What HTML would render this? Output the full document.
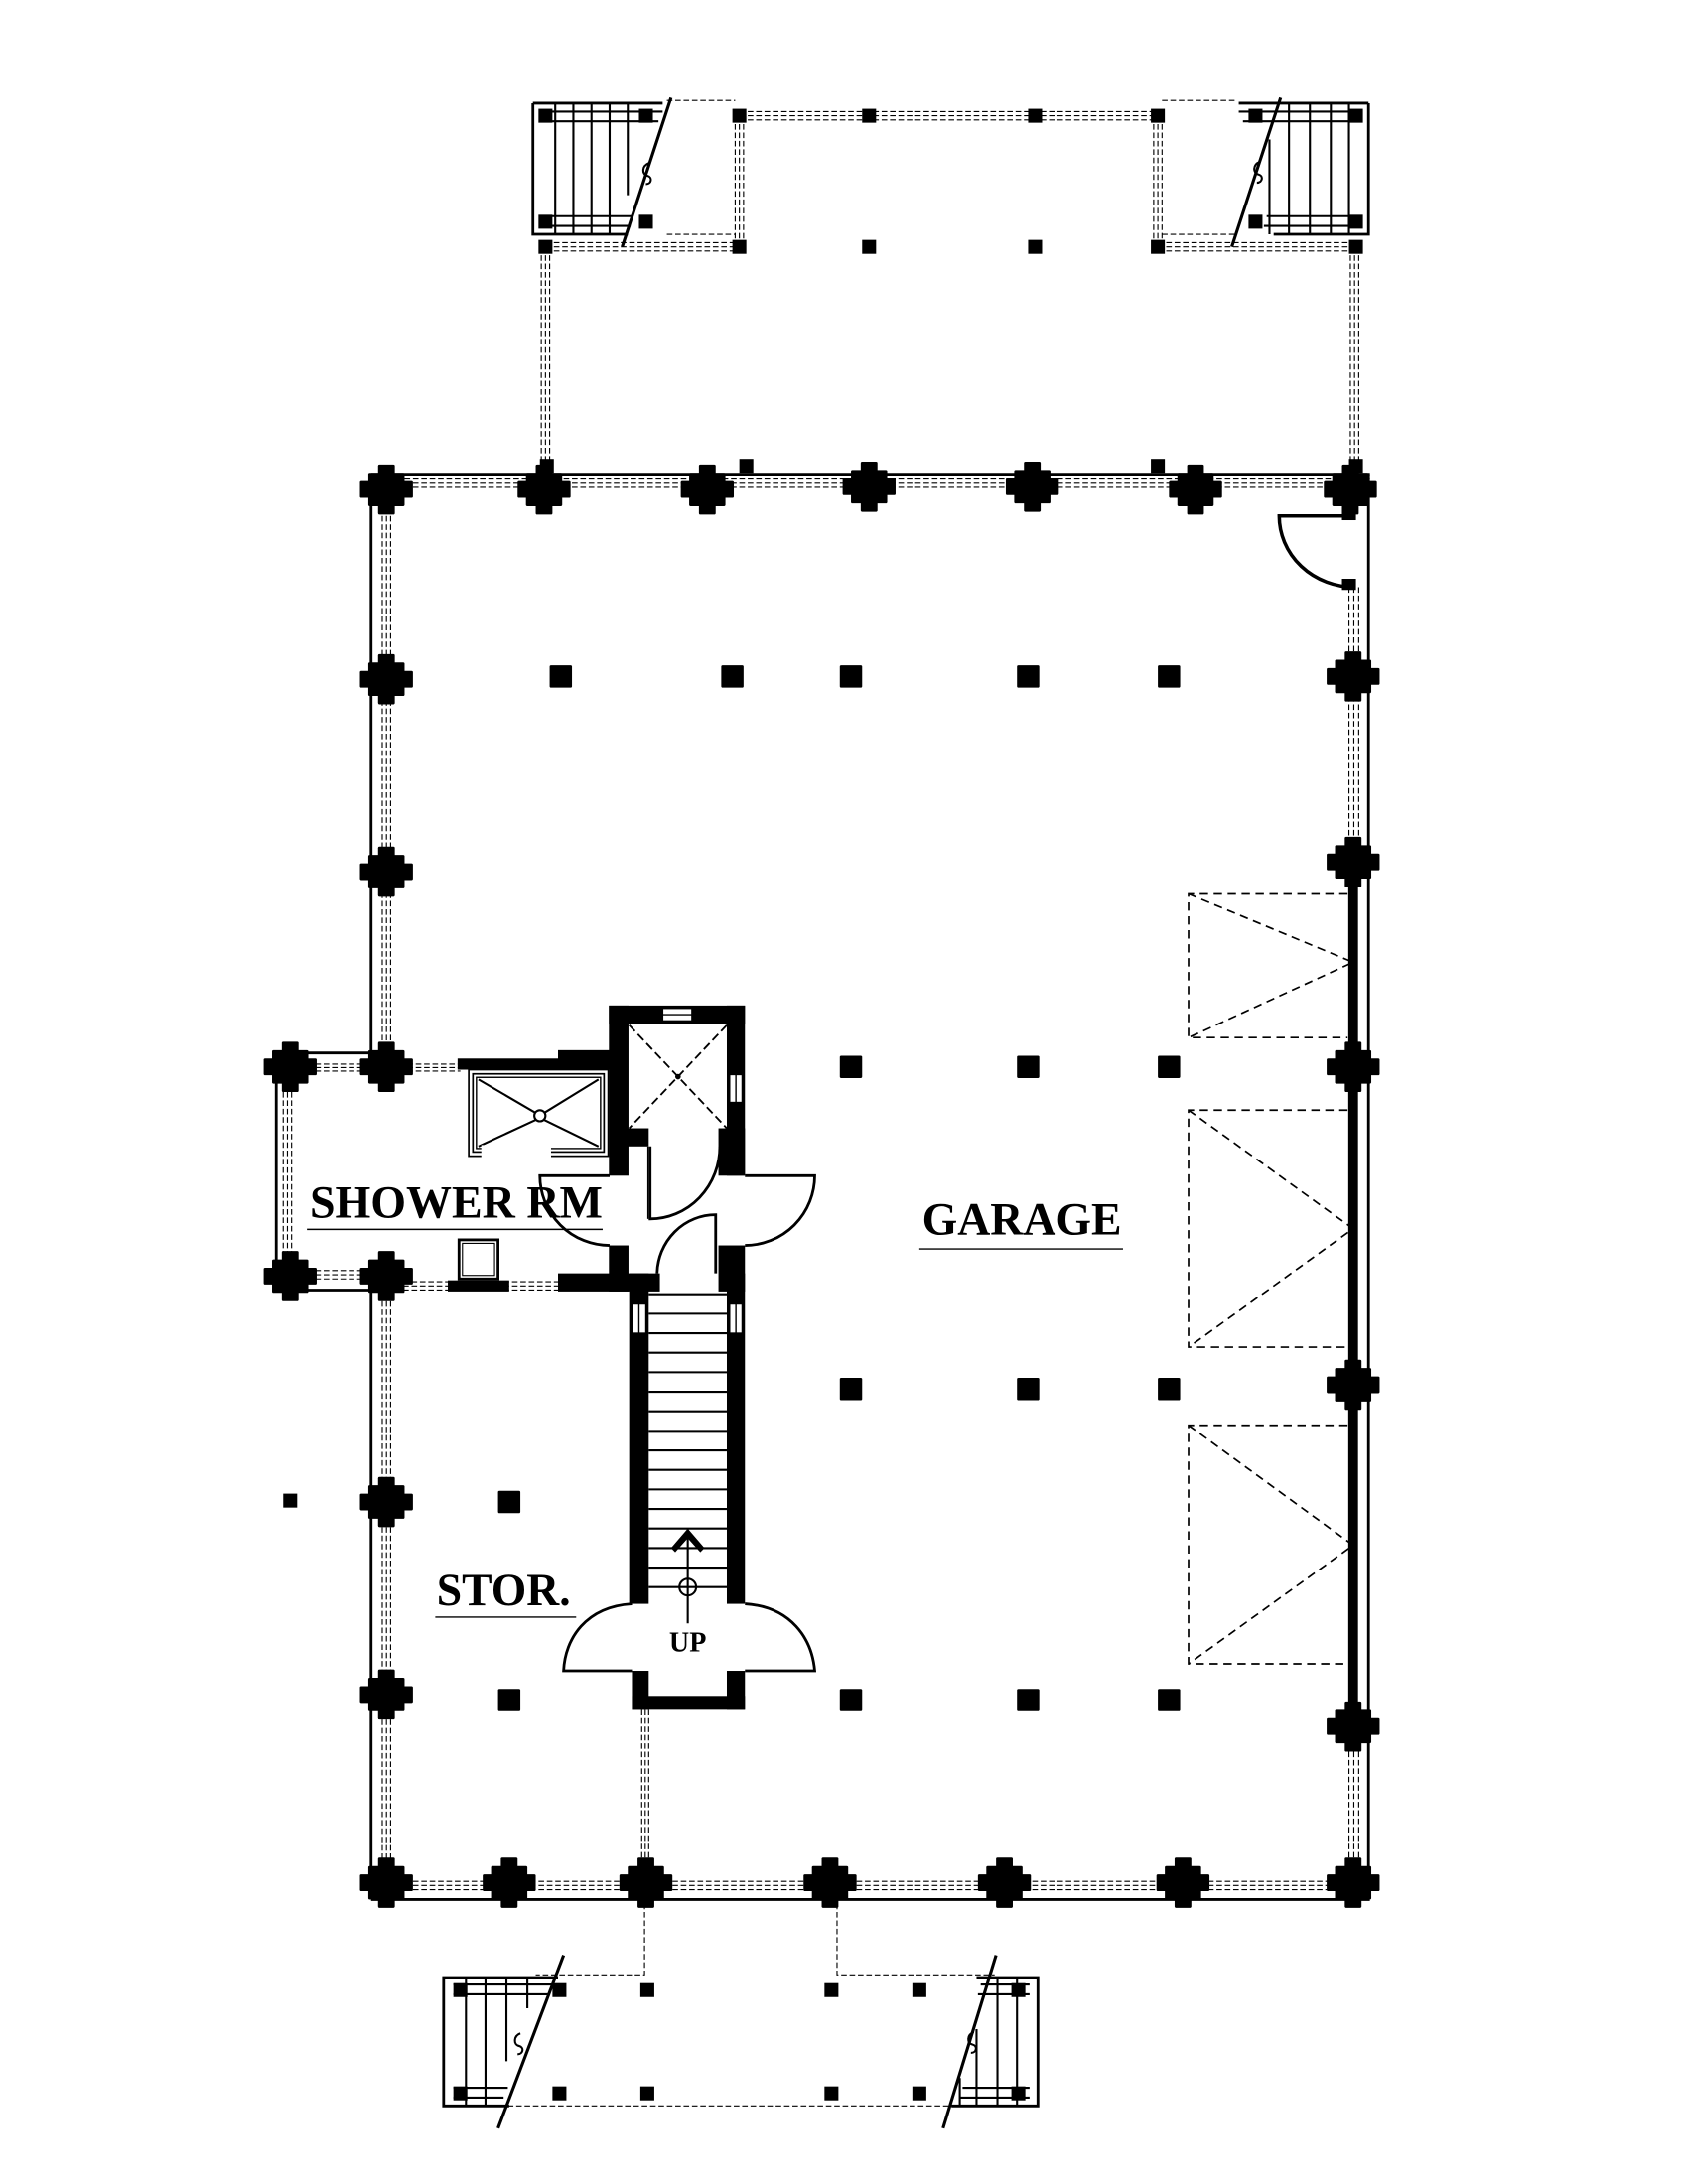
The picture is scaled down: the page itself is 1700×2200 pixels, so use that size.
<!DOCTYPE html>
<html><head><meta charset="utf-8"><style>
html,body{margin:0;padding:0;background:#fff;}
svg{display:block;}
</style></head><body>
<svg width="1700" height="2200" viewBox="0 0 1210 1566" xmlns="http://www.w3.org/2000/svg">
<defs>
<g id="P"><rect x="-13" y="-12" width="26" height="24" rx="1"/><rect x="-19" y="-6" width="38" height="12" rx="1"/><rect x="-6" y="-18" width="12" height="36" rx="1"/></g>
<rect id="C" x="-8" y="-8" width="16" height="16" rx="1"/>
<rect id="S" x="-5" y="-5" width="10" height="10"/>
</defs>
<rect width="1210" height="1566" fill="#fff"/>

<g stroke="#000" stroke-width="0.8" stroke-dasharray="4 2" fill="none">
  <line x1="266" y1="343.5" x2="982" y2="343.5"/><line x1="266" y1="346.5" x2="982" y2="346.5"/><line x1="266" y1="349.5" x2="982" y2="349.5"/>
  <line x1="266" y1="1349" x2="982" y2="1349"/><line x1="266" y1="1352" x2="982" y2="1352"/><line x1="266" y1="1355" x2="982" y2="1355"/>
  <line x1="274" y1="340" x2="274" y2="765"/><line x1="277" y1="340" x2="277" y2="765"/><line x1="280" y1="340" x2="280" y2="765"/>
  <line x1="274" y1="915" x2="274" y2="1362"/><line x1="277" y1="915" x2="277" y2="1362"/><line x1="280" y1="915" x2="280" y2="1362"/>
  <line x1="967" y1="421" x2="967" y2="618"/><line x1="970.5" y1="421" x2="970.5" y2="618"/><line x1="974" y1="421" x2="974" y2="618"/>
  <line x1="967" y1="1238" x2="967" y2="1362"/><line x1="970.5" y1="1238" x2="970.5" y2="1362"/><line x1="974" y1="1238" x2="974" y2="1362"/>
  <line x1="203" y1="765" x2="203" y2="915"/><line x1="206" y1="765" x2="206" y2="915"/><line x1="209" y1="765" x2="209" y2="915"/>
  <line x1="208" y1="763" x2="330" y2="763"/><line x1="208" y1="765.5" x2="330" y2="765.5"/><line x1="208" y1="768" x2="330" y2="768"/>
  <line x1="208" y1="911" x2="277" y2="911"/><line x1="208" y1="914" x2="277" y2="914"/><line x1="208" y1="917" x2="277" y2="917"/>
  <line x1="277" y1="919" x2="400" y2="919"/><line x1="277" y1="922" x2="400" y2="922"/><line x1="277" y1="925" x2="400" y2="925"/>
  <line x1="460" y1="1226" x2="460" y2="1350"/><line x1="462.5" y1="1226" x2="462.5" y2="1350"/><line x1="465" y1="1226" x2="465" y2="1350"/>
  <line x1="388" y1="177" x2="388" y2="340"/><line x1="391" y1="177" x2="391" y2="340"/><line x1="394" y1="177" x2="394" y2="340"/>
  <line x1="968" y1="177" x2="968" y2="340"/><line x1="971" y1="177" x2="971" y2="340"/><line x1="974" y1="177" x2="974" y2="340"/>
  <line x1="530" y1="80" x2="830" y2="80"/><line x1="530" y1="83" x2="830" y2="83"/><line x1="530" y1="86" x2="830" y2="86"/>
  <line x1="391" y1="174" x2="530" y2="174"/><line x1="391" y1="177" x2="530" y2="177"/><line x1="391" y1="180" x2="530" y2="180"/>
  <line x1="830" y1="174" x2="971" y2="174"/><line x1="830" y1="177" x2="971" y2="177"/><line x1="830" y1="180" x2="971" y2="180"/>
  <line x1="527" y1="83" x2="527" y2="177"/><line x1="530" y1="83" x2="530" y2="177"/><line x1="533" y1="83" x2="533" y2="177"/>
  <line x1="827" y1="83" x2="827" y2="177"/><line x1="830" y1="83" x2="830" y2="177"/><line x1="833" y1="83" x2="833" y2="177"/>
</g>
<g stroke="#000" stroke-width="0.8" stroke-dasharray="4 2" fill="none">
  <polyline points="478,72 527,72"/><polyline points="833,72 885,72"/>
  <polyline points="478,168 527,168"/><polyline points="833,168 885,168"/>
  <polyline points="462,1365 462,1416 384,1416"/>
  <polyline points="600,1365 600,1416 713,1416"/>
  <line x1="352" y1="1510" x2="700" y2="1510"/>
</g>

<g stroke="#000" stroke-width="2" fill="none">
  <line x1="266" y1="340" x2="982" y2="340"/>
  <line x1="266" y1="1362" x2="982" y2="1362"/>
  <line x1="266" y1="340" x2="266" y2="765"/>
  <line x1="266" y1="915" x2="266" y2="1362"/>
  <line x1="981" y1="340" x2="981" y2="1362"/>
  <polyline points="277,755 198,755 198,925 277,925"/>
</g>
<rect x="966.5" y="618" width="7" height="620"/>

<g fill="#000">
<use href="#P" x="277" y="351"/><use href="#P" x="390" y="351"/><use href="#P" x="507" y="351"/><use href="#P" x="623" y="349"/><use href="#P" x="740" y="349"/><use href="#P" x="857" y="351"/><use href="#P" x="968" y="351"/>
<use href="#P" x="277" y="487"/><use href="#P" x="277" y="625"/><use href="#P" x="277" y="765"/><use href="#P" x="277" y="915"/><use href="#P" x="277" y="1077"/><use href="#P" x="277" y="1215"/><use href="#P" x="277" y="1350"/>
<use href="#P" x="970" y="485"/><use href="#P" x="970" y="618"/><use href="#P" x="970" y="765"/><use href="#P" x="970" y="993"/><use href="#P" x="970" y="1238"/><use href="#P" x="970" y="1350"/>
<use href="#P" x="365" y="1350"/><use href="#P" x="463" y="1350"/><use href="#P" x="595" y="1350"/><use href="#P" x="720" y="1350"/><use href="#P" x="848" y="1350"/>
<use href="#P" x="208" y="765"/><use href="#P" x="208" y="915"/>
<use href="#C" x="402" y="485"/><use href="#C" x="525" y="485"/><use href="#C" x="610" y="485"/><use href="#C" x="737" y="485"/><use href="#C" x="838" y="485"/>
<use href="#C" x="610" y="765"/><use href="#C" x="737" y="765"/><use href="#C" x="838" y="765"/>
<use href="#C" x="610" y="996"/><use href="#C" x="737" y="996"/><use href="#C" x="838" y="996"/>
<use href="#C" x="365" y="1219"/><use href="#C" x="610" y="1219"/><use href="#C" x="737" y="1219"/><use href="#C" x="838" y="1219"/>
<use href="#C" x="365" y="1077"/>
<use href="#S" x="208" y="1076"/>
<use href="#S" x="535" y="334"/><use href="#S" x="830" y="334"/><use href="#S" x="392" y="334"/><use href="#S" x="972" y="334"/>
<use href="#S" x="391" y="83"/><use href="#S" x="463" y="83"/><use href="#S" x="391" y="159"/><use href="#S" x="463" y="159"/>
<use href="#S" x="530" y="83"/><use href="#S" x="623" y="83"/><use href="#S" x="742" y="83"/><use href="#S" x="830" y="83"/>
<use href="#S" x="900" y="83"/><use href="#S" x="972" y="83"/><use href="#S" x="900" y="159"/><use href="#S" x="972" y="159"/>
<use href="#S" x="391" y="177"/><use href="#S" x="530" y="177"/><use href="#S" x="623" y="177"/><use href="#S" x="742" y="177"/><use href="#S" x="830" y="177"/><use href="#S" x="972" y="177"/>
<use href="#S" x="401" y="1427"/><use href="#S" x="464" y="1427"/><use href="#S" x="596" y="1427"/><use href="#S" x="659" y="1427"/>
<use href="#S" x="401" y="1501"/><use href="#S" x="464" y="1501"/><use href="#S" x="596" y="1501"/><use href="#S" x="659" y="1501"/>
<use href="#S" x="330" y="1427"/><use href="#S" x="330" y="1501"/><use href="#S" x="730" y="1427"/><use href="#S" x="730" y="1501"/>
</g>

<g stroke="#000" fill="none">
  <path d="M382,74 H475 M382,74 V168 H450" stroke-width="2"/>
  <g stroke-width="1.5">
    <line x1="398" y1="74" x2="398" y2="168"/><line x1="411" y1="74" x2="411" y2="168"/><line x1="424" y1="74" x2="424" y2="168"/><line x1="437" y1="74" x2="437" y2="168"/><line x1="450" y1="74" x2="450" y2="140"/>
    <line x1="391" y1="80" x2="475" y2="80"/><line x1="391" y1="87" x2="472" y2="87"/>
    <line x1="391" y1="155" x2="454" y2="155"/><line x1="391" y1="162" x2="452" y2="162"/>
  </g>
  <line x1="481" y1="70" x2="446" y2="177" stroke-width="2.2"/>
  <path d="M465,117 c-5,2 -5,8 -1,9 c4,1 3,6 -1,6" stroke-width="1.5"/>
  <path d="M981,74 H888 M981,74 V168 H913" stroke-width="2"/>
  <g stroke-width="1.5">
    <line x1="967" y1="74" x2="967" y2="168"/><line x1="954" y1="74" x2="954" y2="168"/><line x1="939" y1="74" x2="939" y2="168"/><line x1="924" y1="74" x2="924" y2="168"/><line x1="910" y1="100" x2="910" y2="168"/>
    <line x1="888" y1="80" x2="972" y2="80"/><line x1="891" y1="87" x2="972" y2="87"/>
    <line x1="908" y1="155" x2="972" y2="155"/><line x1="906" y1="162" x2="972" y2="162"/>
  </g>
  <line x1="918" y1="70" x2="883" y2="177" stroke-width="2.2"/>
  <path d="M903,116 c-5,2 -5,8 -1,9 c4,1 3,6 -1,6" stroke-width="1.5"/>
</g>

<g stroke="#000" fill="none">
  <path d="M400,1418 H318 V1510 H365" stroke-width="2"/>
  <g stroke-width="1.5">
    <line x1="334" y1="1418" x2="334" y2="1510"/><line x1="348" y1="1418" x2="348" y2="1510"/><line x1="363" y1="1418" x2="363" y2="1478"/><line x1="378" y1="1418" x2="378" y2="1440"/>
    <line x1="325" y1="1423" x2="396" y2="1423"/><line x1="325" y1="1430" x2="393" y2="1430"/>
    <line x1="325" y1="1497" x2="364" y2="1497"/><line x1="325" y1="1504" x2="361" y2="1504"/>
  </g>
  <line x1="404" y1="1402" x2="357" y2="1526" stroke-width="2.2"/>
  <path d="M373,1458 c-5,2 -5,8 -1,9 c4,1 3,6 -1,6" stroke-width="1.5"/>
  <path d="M700,1418 H744 V1510 H682" stroke-width="2"/>
  <g stroke-width="1.5">
    <line x1="729" y1="1418" x2="729" y2="1510"/><line x1="715" y1="1418" x2="715" y2="1510"/><line x1="700" y1="1455" x2="700" y2="1510"/><line x1="688" y1="1490" x2="688" y2="1510"/>
    <line x1="703" y1="1423" x2="738" y2="1423"/><line x1="701" y1="1430" x2="738" y2="1430"/>
    <line x1="690" y1="1497" x2="738" y2="1497"/><line x1="688" y1="1504" x2="738" y2="1504"/>
  </g>
  <line x1="714" y1="1402" x2="676" y2="1526" stroke-width="2.2"/>
  <path d="M698,1457 c-5,2 -5,8 -1,9 c4,1 3,6 -1,6" stroke-width="1.5"/>
</g>

<g fill="#000"><rect x="962" y="363" width="10" height="10"/><rect x="962" y="415" width="10" height="8"/></g>
<path d="M971,370 H917 A54,51 0 0 0 971,421" fill="none" stroke="#000" stroke-width="2.5"/>

<g stroke="#000" stroke-width="1.2" stroke-dasharray="6 4" fill="none">
  <path d="M966,641 H852 V744 H966"/><path d="M852,641 L970,690 L852,744"/>
  <path d="M966,796 H852 V966 H966"/><path d="M852,796 L970,881 L852,966"/>
  <path d="M966,1022 H852 V1193 H966"/><path d="M852,1022 L970,1108 L852,1193"/>
</g>

<g fill="#000">
  <rect x="436.5" y="721" width="97.5" height="13.5"/>
  <rect x="436.5" y="721" width="14" height="122"/>
  <rect x="521" y="721" width="13" height="122"/>
  <rect x="450" y="809" width="15" height="13"/>
  <rect x="515" y="809" width="19" height="34"/>
  <rect x="436.5" y="893" width="14" height="33"/>
  <rect x="515" y="893" width="19" height="33"/>
  <rect x="328" y="759" width="109" height="8"/>
  <rect x="400" y="753" width="37" height="14"/>
  <rect x="400" y="913" width="73" height="13"/>
  <rect x="321" y="918" width="44" height="8"/>
  <rect x="451" y="913" width="14" height="237"/>
  <rect x="521" y="913" width="13" height="237"/>
  <rect x="453" y="1198" width="12" height="28"/>
  <rect x="521" y="1198" width="13" height="28"/>
  <rect x="453" y="1216" width="81" height="10"/>
</g>
<g fill="#fff" stroke="#000" stroke-width="1">
  <rect x="475" y="723" width="21" height="9"/>
  <rect x="523" y="770.5" width="9" height="20"/>
  <rect x="453" y="935" width="10" height="21"/>
  <rect x="523" y="935" width="9" height="21"/>
</g>
<g stroke="#000" stroke-width="1">
  <line x1="475" y1="727.5" x2="496" y2="727.5"/>
  <line x1="527.5" y1="770.5" x2="527.5" y2="790.5"/>
  <line x1="458" y1="935" x2="458" y2="956"/>
  <line x1="527.5" y1="935" x2="527.5" y2="956"/>
</g>
<g stroke="#000" stroke-width="1.3" stroke-dasharray="6 3">
  <line x1="451" y1="735" x2="521" y2="809"/><line x1="521" y1="735" x2="451" y2="809"/>
</g>
<circle cx="486" cy="772" r="2" fill="#000"/>

<g fill="none" stroke="#000" stroke-width="2">
  <path d="M437,843 H387 A50,50 0 0 0 437,893"/>
  <path d="M534,843 H584 A50,50 0 0 1 534,893"/>
  <path d="M466,822 V874 A50,52 0 0 0 516,822"/>
  <path d="M513,913 V871 A42,43 0 0 0 471,913"/>
</g>
<line x1="464.5" y1="822" x2="464.5" y2="874" stroke="#000" stroke-width="1"/>

<g fill="none" stroke="#000">
  <rect x="336" y="767" width="100" height="62" stroke-width="1.2"/>
  <rect x="339" y="770" width="94" height="56" stroke-width="1.2"/>
  <rect x="341.5" y="772.5" width="89" height="51" stroke-width="1"/>
  <line x1="343" y1="774" x2="384" y2="798" stroke-width="1.5"/>
  <line x1="429" y1="774" x2="390" y2="798" stroke-width="1.5"/>
  <line x1="343" y1="822" x2="384" y2="803" stroke-width="1.5"/>
  <line x1="429" y1="822" x2="390" y2="803" stroke-width="1.5"/>
  <circle cx="387" cy="800" r="4" stroke-width="1.5"/>
</g>
<rect x="345" y="821" width="50" height="10" fill="#fff"/>
<g fill="none" stroke="#000" stroke-width="2">
  <rect x="329" y="889" width="28" height="28"/>
</g>
<rect x="331.5" y="891.5" width="23" height="23" fill="none" stroke="#000" stroke-width="0.8"/>

<g stroke="#000" stroke-width="1.5">
  <line x1="465" y1="928" x2="521" y2="928"/>
  <line x1="465" y1="942" x2="521" y2="942"/><line x1="465" y1="956" x2="521" y2="956"/><line x1="465" y1="970" x2="521" y2="970"/>
  <line x1="465" y1="984" x2="521" y2="984"/><line x1="465" y1="998" x2="521" y2="998"/><line x1="465" y1="1012" x2="521" y2="1012"/>
  <line x1="465" y1="1026" x2="521" y2="1026"/><line x1="465" y1="1040" x2="521" y2="1040"/><line x1="465" y1="1054" x2="521" y2="1054"/>
  <line x1="465" y1="1068" x2="521" y2="1068"/><line x1="465" y1="1082" x2="521" y2="1082"/><line x1="465" y1="1096" x2="521" y2="1096"/>
  <line x1="465" y1="1110" x2="521" y2="1110"/><line x1="465" y1="1124" x2="521" y2="1124"/><line x1="465" y1="1138" x2="521" y2="1138"/>
</g>
<line x1="493" y1="1096" x2="493" y2="1164" stroke="#000" stroke-width="1.5"/>
<path d="M481,1110 L493,1096 L505,1110 L502,1113 L493,1103 L484,1113 Z" fill="#000"/>
<circle cx="493" cy="1138" r="6" fill="none" stroke="#000" stroke-width="1.5"/>
<path d="M453,1150 C420,1152 405,1175 404,1198 H453 M534,1150 C567,1152 582,1175 584,1198 H534" fill="none" stroke="#000" stroke-width="2"/>
<text x="493" y="1184" text-anchor="middle" font-family="Liberation Serif, serif" font-weight="bold" font-size="20">UP</text>

<g font-family="Liberation Serif, serif" font-weight="bold" fill="#000">
  <text x="222" y="873" font-size="33" textLength="210" lengthAdjust="spacingAndGlyphs">SHOWER RM</text>
  <text x="661" y="885" font-size="33" textLength="143" lengthAdjust="spacingAndGlyphs">GARAGE</text>
  <text x="313" y="1151" font-size="33" textLength="96" lengthAdjust="spacingAndGlyphs">STOR.</text>
</g>
<g stroke="#000" stroke-width="1">
  <line x1="220" y1="881.5" x2="432" y2="881.5"/>
  <line x1="659" y1="895.5" x2="805" y2="895.5"/>
  <line x1="312" y1="1159.5" x2="413" y2="1159.5"/>
</g>
</svg>
</body></html>
